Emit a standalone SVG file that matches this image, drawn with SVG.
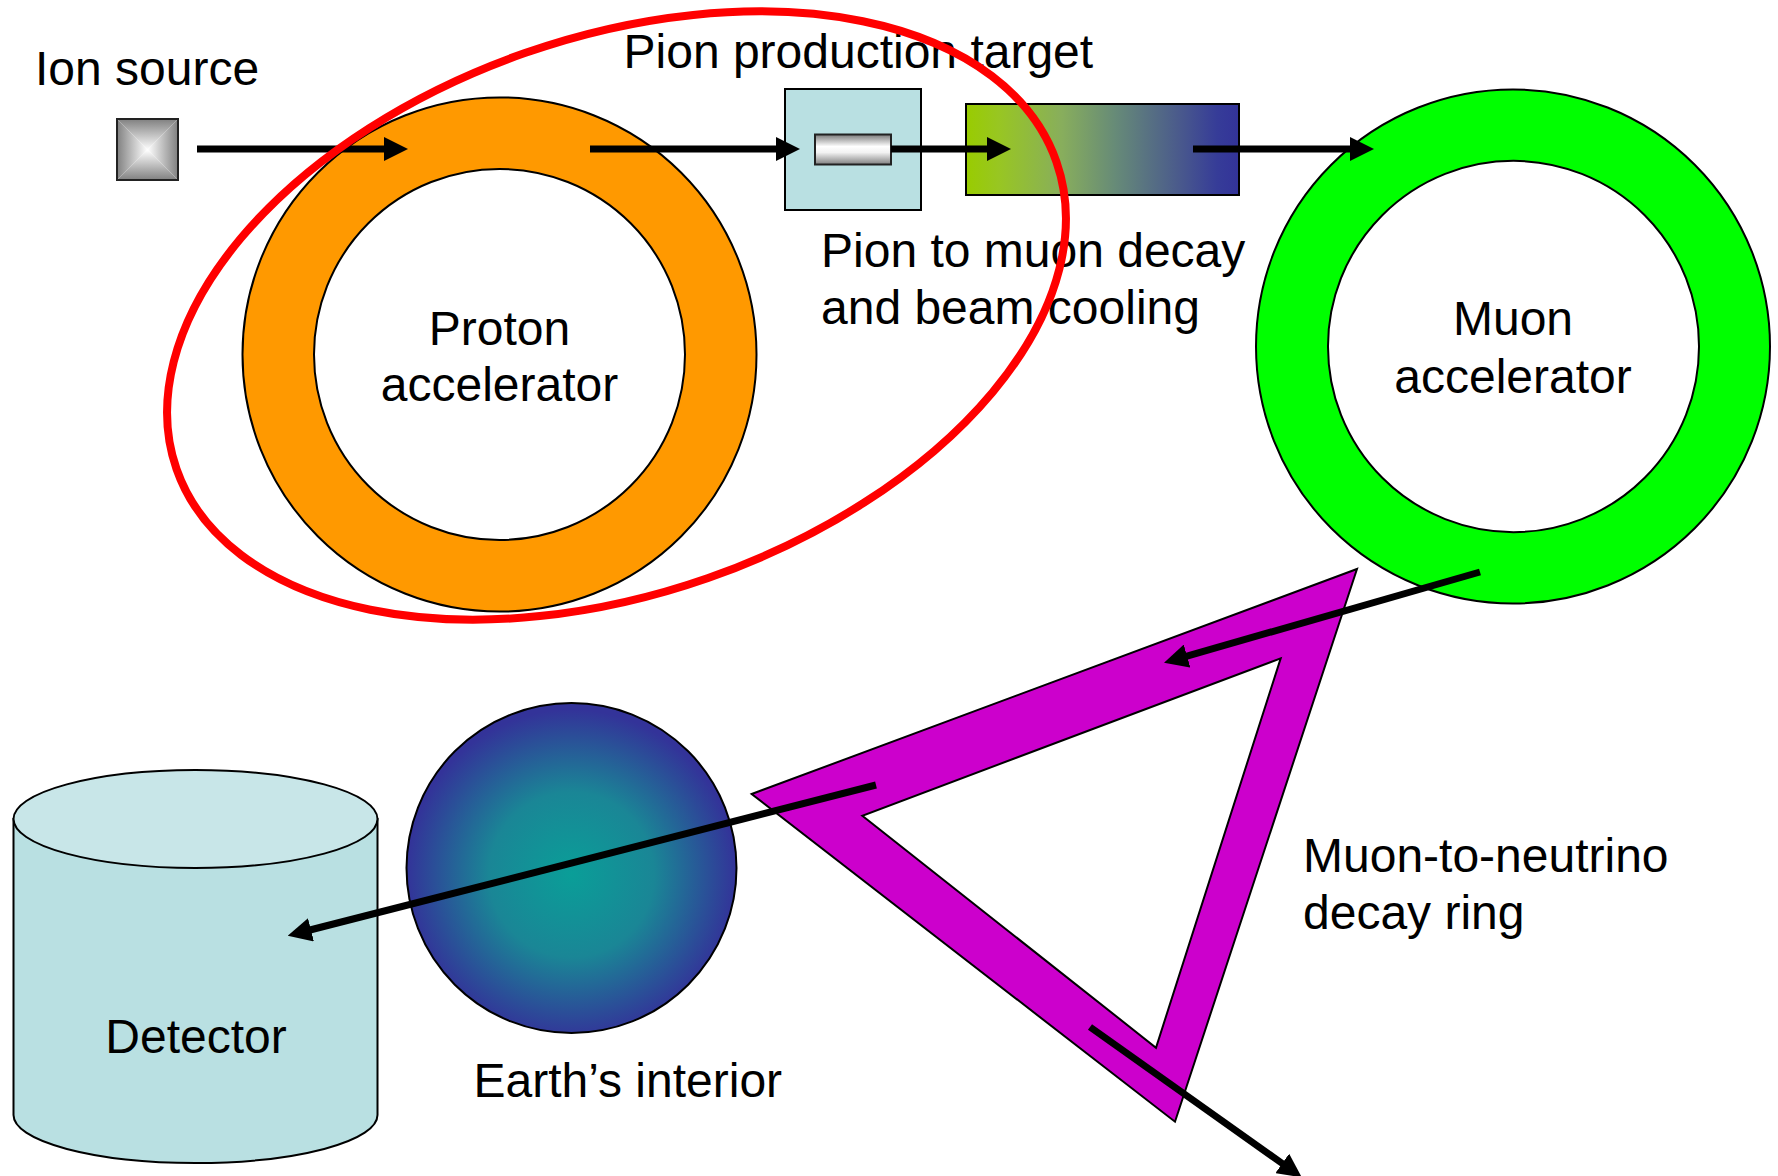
<svg xmlns="http://www.w3.org/2000/svg" width="1778" height="1176" viewBox="0 0 1778 1176">
  <style>
    .lbl { font-family: "Liberation Sans", Arial, sans-serif; font-size: 48px; fill: #000; }
    .mid { text-anchor: middle; }
    .edge { stroke: #000; stroke-width: 2; }
    .conn { fill: none; stroke: #000; stroke-width: 7; marker-end: url(#arrow); }
  </style>
  <defs>
    <marker id="arrow" markerUnits="userSpaceOnUse" viewBox="0 -12 24 24" refX="1" refY="0" markerWidth="24" markerHeight="24" orient="auto">
      <path d="M0,-12 L24,0 L0,12 z" fill="#000"/>
    </marker>
    <linearGradient id="gTop" x1="0" y1="119" x2="0" y2="150" gradientUnits="userSpaceOnUse">
      <stop offset="0" stop-color="#808080"/><stop offset="1" stop-color="#ffffff"/>
    </linearGradient>
    <linearGradient id="gBot" x1="0" y1="180" x2="0" y2="150" gradientUnits="userSpaceOnUse">
      <stop offset="0" stop-color="#808080"/><stop offset="1" stop-color="#ffffff"/>
    </linearGradient>
    <linearGradient id="gLeft" x1="117" y1="0" x2="147.5" y2="0" gradientUnits="userSpaceOnUse">
      <stop offset="0" stop-color="#808080"/><stop offset="1" stop-color="#ffffff"/>
    </linearGradient>
    <linearGradient id="gRight" x1="178" y1="0" x2="147.5" y2="0" gradientUnits="userSpaceOnUse">
      <stop offset="0" stop-color="#808080"/><stop offset="1" stop-color="#ffffff"/>
    </linearGradient>
    <linearGradient id="gBar" x1="0" y1="0" x2="0" y2="1">
      <stop offset="0" stop-color="#7a7a7a"/>
      <stop offset="0.4" stop-color="#ffffff"/>
      <stop offset="0.6" stop-color="#f2f2f2"/>
      <stop offset="1" stop-color="#7f7f7f"/>
    </linearGradient>
    <linearGradient id="gCool" x1="0" y1="0" x2="1" y2="0">
      <stop offset="0" stop-color="#99CC00"/>
      <stop offset="0.12" stop-color="#98C622"/>
      <stop offset="0.35" stop-color="#88AE5C"/>
      <stop offset="0.55" stop-color="#668A78"/>
      <stop offset="0.78" stop-color="#4A5A8C"/>
      <stop offset="0.92" stop-color="#363C98"/>
      <stop offset="1" stop-color="#333399"/>
    </linearGradient>
    <radialGradient id="gEarth" cx="0.5" cy="0.52" r="0.5" fx="0.5" fy="0.52">
      <stop offset="0" stop-color="#0A9E98"/>
      <stop offset="0.5" stop-color="#1A8696"/>
      <stop offset="1" stop-color="#333399"/>
    </radialGradient>
  </defs>

  <rect x="0" y="0" width="1778" height="1176" fill="#ffffff"/>

  <g id="ion-source">
    <polygon points="117,119 178,119 147.5,149.5" fill="url(#gTop)"/>
    <polygon points="117,180 178,180 147.5,149.5" fill="url(#gBot)"/>
    <polygon points="117,119 117,180 147.5,149.5" fill="url(#gLeft)"/>
    <polygon points="178,119 178,180 147.5,149.5" fill="url(#gRight)"/>
    <rect x="117" y="119" width="61" height="61" fill="none" stroke="#222" stroke-width="2"/>
    <text class="lbl" x="35" y="85">Ion source</text>
  </g>

  <g id="proton-accelerator">
    <path class="edge" fill="#FF9900" fill-rule="evenodd" d="M242.5,354.5 a257,257 0 1,0 514,0 a257,257 0 1,0 -514,0 z M314,354.5 a185.5,185.5 0 1,0 371,0 a185.5,185.5 0 1,0 -371,0 z"/>
    <text class="lbl mid" x="499.5" y="344.5">Proton</text>
    <text class="lbl mid" x="499.5" y="401">accelerator</text>
  </g>

  <g id="pion-target">
    <rect class="edge" x="785" y="89" width="136" height="121" fill="#B9E0E2"/>
    <rect x="815" y="134.5" width="76" height="30" fill="url(#gBar)" stroke="#222" stroke-width="2"/>
    <text class="lbl" x="623.5" y="68.3">Pion production target</text>
  </g>

  <g id="cooling">
    <rect class="edge" x="966" y="104" width="273" height="91" fill="url(#gCool)"/>
    <text class="lbl" x="821" y="266.5">Pion to muon decay</text>
    <text class="lbl" x="821" y="323.5">and beam cooling</text>
  </g>

  <g id="muon-accelerator">
    <path class="edge" fill="#00FF00" fill-rule="evenodd" d="M1256,346.5 a257,257 0 1,0 514,0 a257,257 0 1,0 -514,0 z M1328,346.5 a185.5,185.5 0 1,0 371,0 a185.5,185.5 0 1,0 -371,0 z"/>
    <text class="lbl mid" x="1513" y="335">Muon</text>
    <text class="lbl mid" x="1513" y="393">accelerator</text>
  </g>

  <g id="decay-ring">
    <path class="edge" fill="#CC00CC" fill-rule="evenodd" d="M751.7,794 L1357,569 L1175,1121.7 z M862.3,815.7 L1156,1047.7 L1280.7,658.3 z"/>
    <text class="lbl" x="1303" y="871.5">Muon-to-neutrino</text>
    <text class="lbl" x="1303" y="928.5">decay ring</text>
  </g>

  <g id="earth">
    <circle cx="571.5" cy="868" r="165" fill="url(#gEarth)" stroke="#000" stroke-width="2"/>
    <text class="lbl" x="473.5" y="1097">Earth’s interior</text>
  </g>

  <g id="detector">
    <path class="edge" fill="#B9E0E2" d="M13.5,819 L13.5,1115 A182,48 0 0,0 377.5,1115 L377.5,819 z"/>
    <ellipse class="edge" cx="195.5" cy="819" rx="182" ry="49" fill="#C8E6E8"/>
    <text class="lbl mid" x="196" y="1052.5">Detector</text>
  </g>

  <g id="connectors">
    <line class="conn" x1="197" y1="149" x2="385" y2="149"/>
    <line class="conn" x1="590" y1="149" x2="777" y2="149"/>
    <line class="conn" x1="891" y1="149" x2="988" y2="149"/>
    <line class="conn" x1="1193" y1="149" x2="1351" y2="149"/>
    <line class="conn" x1="1480" y1="572" x2="1186.1" y2="656.4"/>
    <line class="conn" x1="876" y1="785" x2="310" y2="930"/>
    <line class="conn" x1="1090" y1="1027" x2="1283" y2="1164"/>
  </g>

  <g id="pion-production-highlight">
    <ellipse cx="616.5" cy="315.5" rx="466" ry="278" transform="rotate(-19.25 616.5 315.5)" fill="none" stroke="#FF0000" stroke-width="8"/>
  </g>
</svg>
